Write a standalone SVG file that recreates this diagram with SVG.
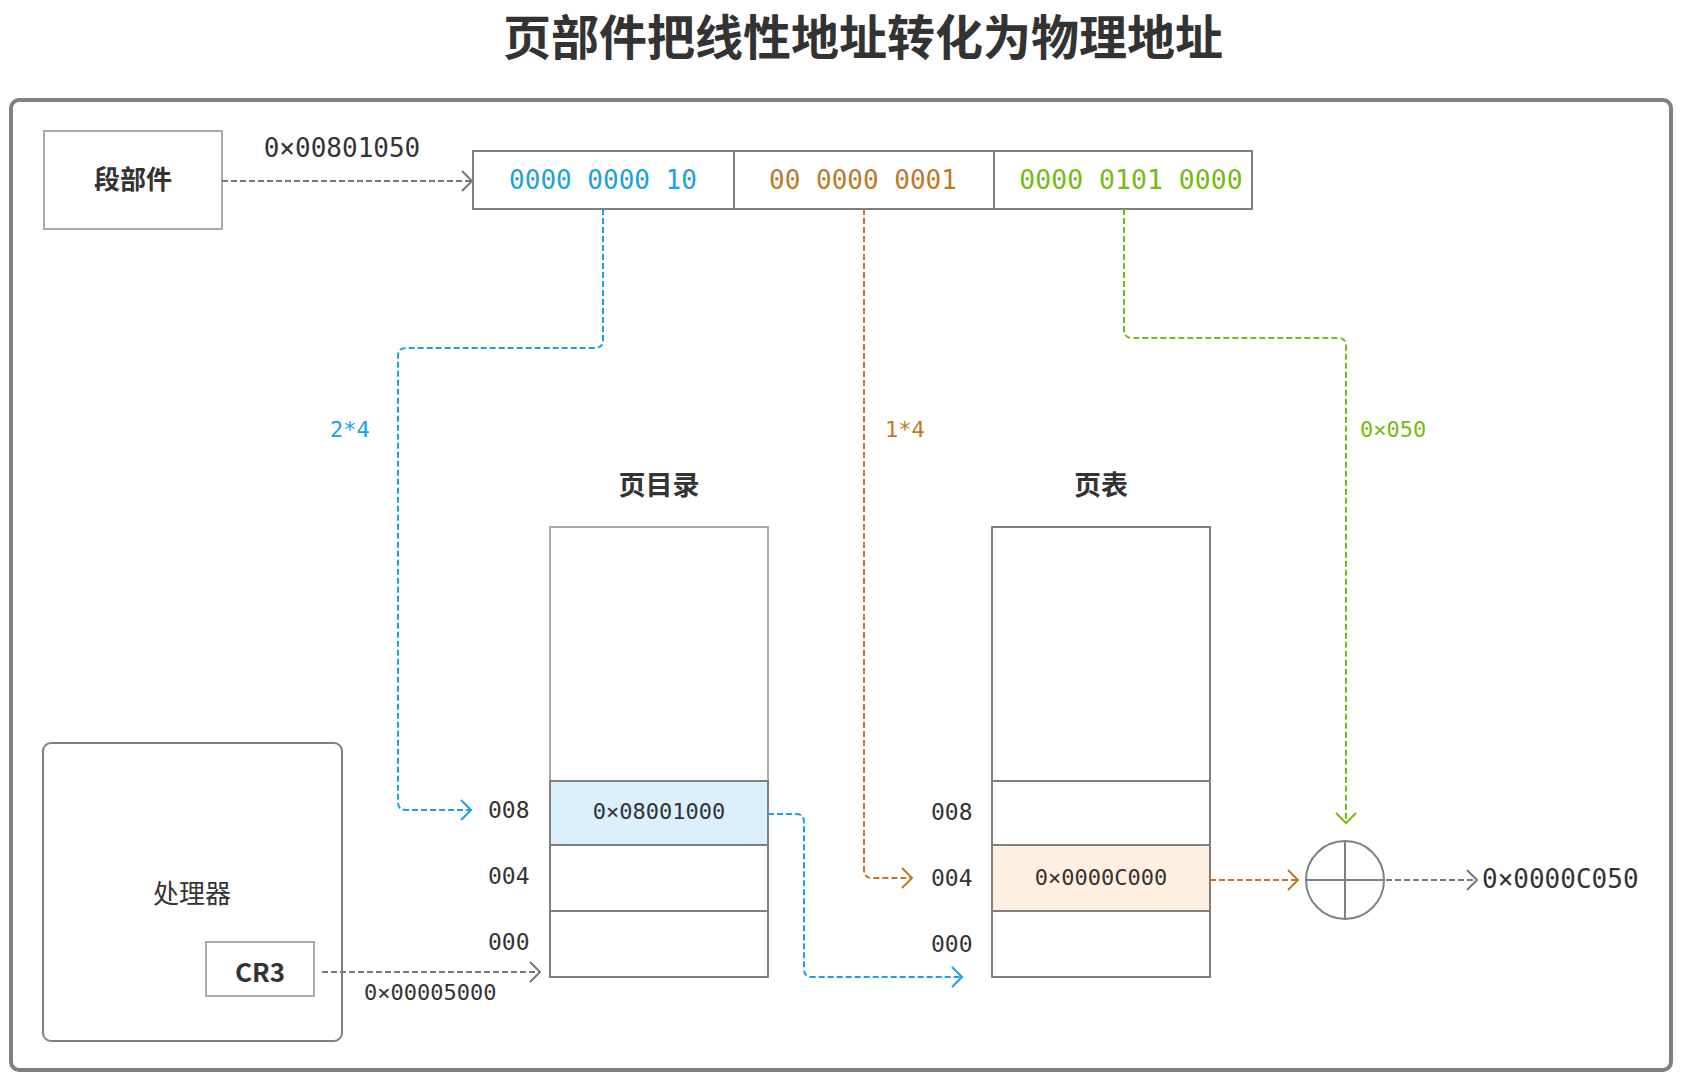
<svg xmlns="http://www.w3.org/2000/svg" width="1683" height="1083" viewBox="0 0 1683 1083">
<style>
.cjk{font-family:"Noto Sans CJK SC","Noto Sans",sans-serif;fill:#333}
.b{font-weight:bold}
.mono{font-family:"DejaVu Sans Mono","Liberation Mono",monospace;fill:#333}
.box{fill:#fff;stroke:#808080;stroke-width:2}
.lbox{fill:#fff;stroke:#aaaaaa;stroke-width:2}
.c{fill:none;stroke-width:2;stroke-dasharray:6 3}
.blue{stroke:#1BA1E2}
.orange{stroke:#C07828}
.green{stroke:#78B914}
.gray{stroke:#777}
</style>
<defs>
<marker id="mb" markerUnits="userSpaceOnUse" markerWidth="26" markerHeight="26" viewBox="-13 -13 26 26" refX="0" refY="0" orient="auto"><path d="M-10,-10 L0,0 L-10,10" fill="none" stroke="#1BA1E2" stroke-width="2"/></marker>
<marker id="mo" markerUnits="userSpaceOnUse" markerWidth="26" markerHeight="26" viewBox="-13 -13 26 26" refX="0" refY="0" orient="auto"><path d="M-10,-10 L0,0 L-10,10" fill="none" stroke="#C07828" stroke-width="2"/></marker>
<marker id="mg" markerUnits="userSpaceOnUse" markerWidth="26" markerHeight="26" viewBox="-13 -13 26 26" refX="0" refY="0" orient="auto"><path d="M-10,-10 L0,0 L-10,10" fill="none" stroke="#78B914" stroke-width="2"/></marker>
<marker id="mk" markerUnits="userSpaceOnUse" markerWidth="26" markerHeight="26" viewBox="-13 -13 26 26" refX="0" refY="0" orient="auto"><path d="M-10,-10 L0,0 L-10,10" fill="none" stroke="#777" stroke-width="2"/></marker>
</defs>
<rect width="1683" height="1083" fill="#fff"/>
<text class="cjk b" x="863" y="55" font-size="48" text-anchor="middle">页部件把线性地址转化为物理地址</text>
<rect x="11" y="100" width="1660" height="970" rx="8" fill="#fff" stroke="#808080" stroke-width="4"/>

<g id="segment-unit">
<rect class="lbox" x="44" y="131" width="178" height="98"/>
<text class="cjk b" x="133" y="189" font-size="26" text-anchor="middle">段部件</text>
</g>

<g id="linear-address">
<rect class="box" x="473" y="151" width="779" height="58"/>
<line x1="734" y1="151" x2="734" y2="209" stroke="#808080" stroke-width="2"/>
<line x1="994" y1="151" x2="994" y2="209" stroke="#808080" stroke-width="2"/>
<text class="mono" x="603" y="189" font-size="26" text-anchor="middle" style="fill:#1BA1E2">0000 0000 10</text>
<text class="mono" x="863" y="189" font-size="26" text-anchor="middle" style="fill:#C07828">00 0000 0001</text>
<text class="mono" x="1131" y="189" font-size="26.5" text-anchor="middle" style="fill:#78B914">0000 0101 0000</text>
</g>

<g id="page-directory">
<text class="cjk b" x="659" y="495" font-size="27" text-anchor="middle">页目录</text>
<rect class="lbox" x="550" y="527" width="218" height="254"/>
<rect class="box" x="550" y="781" width="218" height="64" style="fill:#DAF0FC"/>
<rect class="box" x="550" y="845" width="218" height="66"/>
<rect class="box" x="550" y="911" width="218" height="66"/>
<text class="mono" x="659" y="819" font-size="22" text-anchor="middle">0×08001000</text>
<text class="mono" x="488" y="818" font-size="23">008</text>
<text class="mono" x="488" y="884" font-size="23">004</text>
<text class="mono" x="488" y="950" font-size="23">000</text>
</g>

<g id="page-table">
<text class="cjk b" x="1101" y="495" font-size="27" text-anchor="middle">页表</text>
<rect class="box" x="992" y="527" width="218" height="254"/>
<rect class="box" x="992" y="781" width="218" height="64"/>
<rect class="box" x="992" y="845" width="218" height="66" style="fill:#FDF0E0"/>
<rect class="box" x="992" y="911" width="218" height="66"/>
<text class="mono" x="1101" y="885" font-size="22" text-anchor="middle">0×0000C000</text>
<text class="mono" x="931" y="820" font-size="23">008</text>
<text class="mono" x="931" y="886" font-size="23">004</text>
<text class="mono" x="931" y="952" font-size="23">000</text>
</g>

<g id="adder">
<circle class="box" cx="1345" cy="880" r="39"/>
<line x1="1306" y1="880" x2="1384" y2="880" stroke="#808080" stroke-width="2"/>
<line x1="1345" y1="841" x2="1345" y2="919" stroke="#808080" stroke-width="2"/>
</g>

<g id="processor">
<rect class="box" x="43" y="743" width="299" height="298" rx="8"/>
<text class="cjk" x="192" y="903" font-size="26" text-anchor="middle">处理器</text>
</g>

<g id="cr3">
<rect class="lbox" x="206" y="942" width="108" height="54"/>
<text class="cjk b" x="260" y="982" font-size="26" text-anchor="middle">CR3</text>
</g>

<g id="physical-address">
<text class="mono" x="1482" y="888" font-size="26">0×0000C050</text>
</g>

<g id="connectors">
<path class="c gray" d="M222,181 H472" marker-end="url(#mk)"/>
<text class="mono" x="342" y="157" font-size="26" text-anchor="middle">0×00801050</text>
<path class="c blue" d="M603,209 V340 Q603,348 595,348 H406 Q398,348 398,356 V802 Q398,810 406,810 H471" marker-end="url(#mb)"/>
<text class="mono" x="330" y="437" font-size="22" style="fill:#1BA1E2">2*4</text>
<path class="c blue" d="M768,814 H796 Q804,814 804,822 V969 Q804,977 812,977 H962" marker-end="url(#mb)"/>
<path class="c orange" d="M864,209 V870 Q864,878 872,878 H912" marker-end="url(#mo)"/>
<text class="mono" x="885" y="437" font-size="22" style="fill:#C07828">1*4</text>
<path class="c orange" d="M1210,880 H1298" marker-end="url(#mo)"/>
<path class="c green" d="M1124,209 V330 Q1124,338 1132,338 H1338 Q1346,338 1346,346 V823" marker-end="url(#mg)"/>
<text class="mono" x="1360" y="437" font-size="22" style="fill:#78B914">0×050</text>
<path class="c gray" d="M1386,880 H1477" marker-end="url(#mk)"/>
<path class="c gray" d="M322,972 H540" marker-end="url(#mk)"/>
<text class="mono" x="364" y="1000" font-size="22">0×00005000</text>
</g>
</svg>
